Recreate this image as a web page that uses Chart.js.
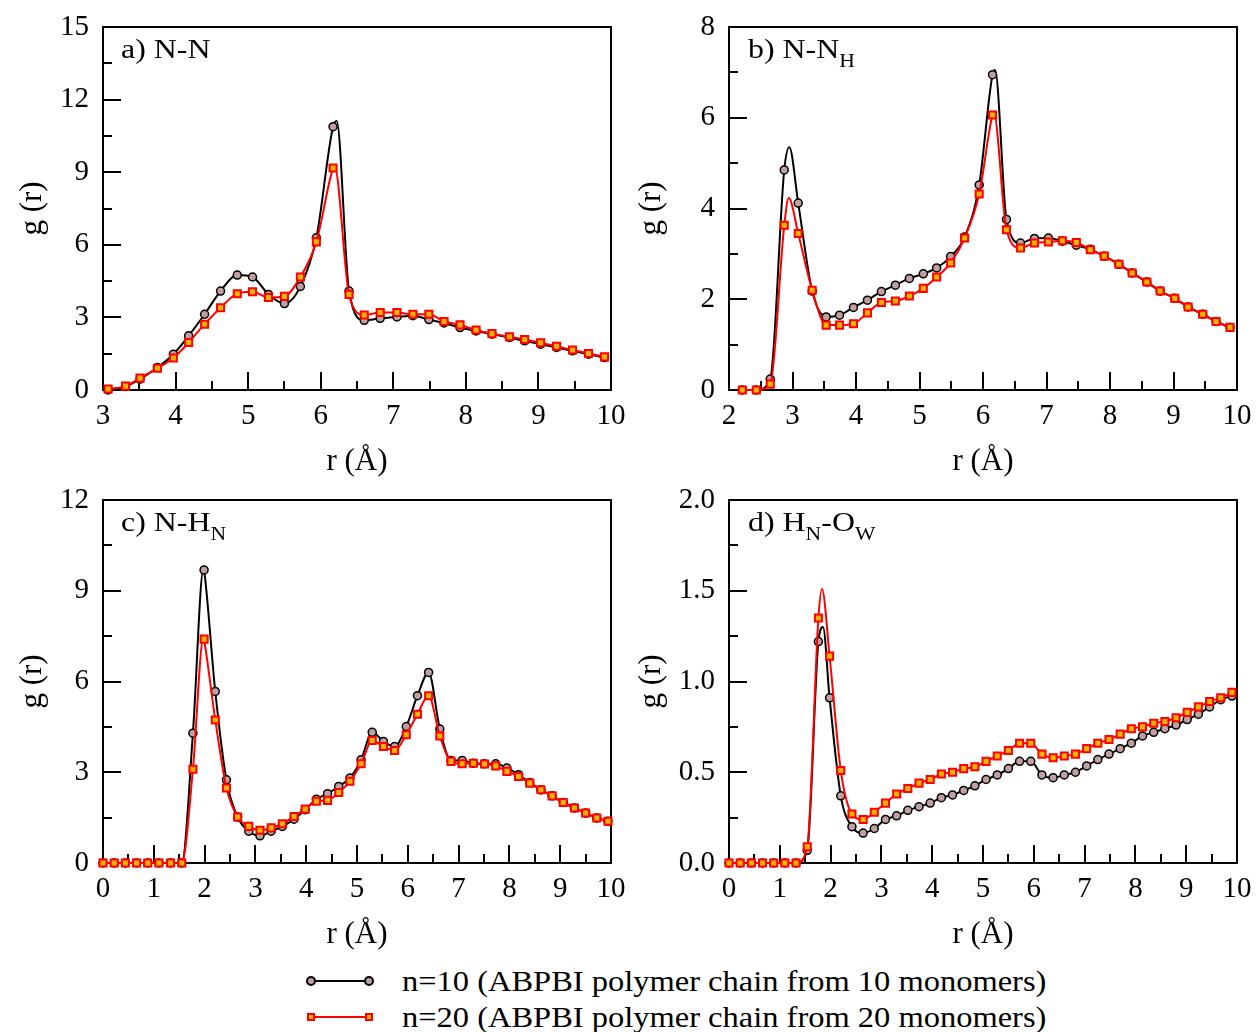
<!DOCTYPE html>
<html>
<head>
<meta charset="utf-8">
<script src="https://cdn.jsdelivr.net/npm/chart.js@4.4.1/dist/chart.umd.min.js"></script>
<style>
  body { margin: 0; background: #fff; width: 1259px; height: 1032px; position: relative; overflow: hidden;
         font-family: 'Liberation Serif', 'Times New Roman', serif; color: #000; }
  canvas { position: absolute; }
  .plabel { position: absolute; font-size: 28px; line-height: 28px; white-space: nowrap;
            transform: scaleX(1.14); transform-origin: left center; }
  .plabel sub { font-size: 19px; position: relative; top: 9px; vertical-align: baseline; line-height: 0; }
  .legline { position: absolute; height: 2px; width: 58px; left: 311px; }
  .legmark { position: absolute; box-sizing: border-box; }
  .legtext { position: absolute; left: 402px; font-size: 29px; line-height: 34px; white-space: nowrap;
             transform: scaleX(1.12); transform-origin: left center; }
</style>
</head>
<body>
<canvas id="chartA" width="630" height="480" style="left:0;top:0"></canvas>
<canvas id="chartB" width="629" height="480" style="left:630px;top:0"></canvas>
<canvas id="chartC" width="630" height="473" style="left:0;top:480px"></canvas>
<canvas id="chartD" width="629" height="473" style="left:630px;top:480px"></canvas>

<div class="plabel" style="left:121px;top:35px">a) N-N</div>
<div class="plabel" style="left:748px;top:35px">b) N-N<sub>H</sub></div>
<div class="plabel" style="left:121px;top:508px">c) N-H<sub>N</sub></div>
<div class="plabel" style="left:748px;top:508px">d) H<sub>N</sub>-O<sub>W</sub></div>

<div class="legline" style="top:980px;background:#000"></div>
<div class="legmark" style="left:306px;top:976px;width:10px;height:10px;border-radius:50%;border:2px solid #000;background:#bf9f9f"></div>
<div class="legmark" style="left:364px;top:976px;width:10px;height:10px;border-radius:50%;border:2px solid #000;background:#bf9f9f"></div>
<div class="legtext" style="top:964px">n=10 (ABPBI polymer chain from 10 monomers)</div>

<div class="legline" style="top:1016px;background:#ff0000"></div>
<div class="legmark" style="left:307px;top:1013px;width:8px;height:8px;border:2px solid #ff0000;background:#f4b400"></div>
<div class="legmark" style="left:365px;top:1013px;width:8px;height:8px;border:2px solid #ff0000;background:#f4b400"></div>
<div class="legtext" style="top:1000px">n=20 (ABPBI polymer chain from 20 monomers)</div>

<script>
// r values (Angstrom) of the plotted markers
const rA = [3.07, 3.31, 3.51, 3.75, 3.97, 4.18, 4.40, 4.62, 4.85, 5.06, 5.28, 5.50, 5.72, 5.94, 6.17, 6.39,
            6.60, 6.82, 7.05, 7.27, 7.49, 7.70, 7.92, 8.14, 8.36, 8.60, 8.81, 9.03, 9.25, 9.47, 9.69, 9.91];
const aN10 = [0.00, 0.14, 0.45, 0.93, 1.48, 2.24, 3.13, 4.09, 4.75, 4.67, 3.95, 3.57, 4.28, 6.29, 10.88, 4.09,
              2.88, 2.96, 3.02, 3.07, 2.91, 2.77, 2.58, 2.44, 2.31, 2.17, 2.03, 1.89, 1.76, 1.62, 1.48, 1.34];
const aN20 = [0.04, 0.16, 0.49, 0.90, 1.32, 1.96, 2.72, 3.40, 3.98, 4.06, 3.82, 3.87, 4.67, 6.12, 9.17, 3.95,
              3.10, 3.20, 3.20, 3.13, 3.13, 2.83, 2.69, 2.48, 2.33, 2.20, 2.09, 1.95, 1.81, 1.65, 1.51, 1.37];
const aN10Peak = [[6.22, 11.12]];
const aN20Peak = [[6.19, 9.25]];

const rB = [2.21, 2.43, 2.65, 2.87, 3.09, 3.31, 3.53, 3.74, 3.96, 4.18, 4.40, 4.62, 4.84, 5.06, 5.27, 5.49, 5.71, 5.94,
            6.15, 6.37, 6.59, 6.81, 7.03, 7.25, 7.47, 7.69, 7.91, 8.14, 8.35, 8.58, 8.79, 9.02, 9.23, 9.46, 9.67, 9.89];
const bN10 = [0, 0, 0.24, 4.85, 4.12, 2.18, 1.61, 1.65, 1.82, 1.98, 2.17, 2.31, 2.46, 2.56, 2.69, 2.94, 3.37, 4.52,
              6.95, 3.76, 3.24, 3.34, 3.35, 3.28, 3.19, 3.10, 2.95, 2.77, 2.58, 2.38, 2.18, 2.02, 1.83, 1.67, 1.51, 1.38];
const bN20 = [0, 0, 0.13, 3.63, 3.45, 2.20, 1.43, 1.43, 1.46, 1.70, 1.93, 1.96, 2.07, 2.24, 2.49, 2.80, 3.35, 4.32,
              6.06, 3.53, 3.13, 3.24, 3.26, 3.29, 3.25, 3.09, 2.95, 2.77, 2.58, 2.38, 2.18, 2.02, 1.83, 1.67, 1.51, 1.38];
const bN10Peak = [[2.95, 5.35], [6.19, 7.05]];
const bN20Peak = [[2.94, 4.23], [6.17, 6.10]];

const rC = [0, 0.22, 0.44, 0.66, 0.88, 1.10, 1.33, 1.55, 1.77, 1.99, 2.21, 2.43, 2.65, 2.87, 3.09, 3.31, 3.53,
            3.76, 3.98, 4.20, 4.42, 4.64, 4.86, 5.08, 5.30, 5.52, 5.74, 5.97, 6.19, 6.41, 6.63, 6.85, 7.07, 7.29,
            7.51, 7.73, 7.95, 8.18, 8.40, 8.62, 8.84, 9.06, 9.28, 9.50, 9.72, 9.94];
const cN10 = [0, 0, 0, 0, 0, 0, 0, 0, 4.29, 9.69, 5.67, 2.75, 1.52, 1.05, 0.90, 1.05, 1.21, 1.45, 1.76, 2.11, 2.29,
              2.53, 2.81, 3.41, 4.32, 4.02, 3.85, 4.51, 5.53, 6.30, 4.43, 3.39, 3.39, 3.30, 3.28, 3.28, 3.14, 2.92,
              2.66, 2.42, 2.22, 2.00, 1.82, 1.65, 1.49, 1.38];
const cN20 = [0, 0, 0, 0, 0, 0, 0, 0, 3.10, 7.40, 4.73, 2.48, 1.52, 1.21, 1.08, 1.16, 1.30, 1.54, 1.78, 2.04, 2.07,
              2.33, 2.70, 3.28, 4.05, 3.85, 3.72, 4.24, 4.92, 5.53, 4.20, 3.36, 3.28, 3.30, 3.27, 3.21, 3.03, 2.86,
              2.64, 2.42, 2.22, 2.00, 1.82, 1.65, 1.49, 1.38];
const cN10Peak = [[1.98, 9.75]];
const cN20Peak = [[1.98, 7.48]];

const rD = [0, 0.22, 0.44, 0.66, 0.88, 1.10, 1.32, 1.54, 1.76, 1.98, 2.20, 2.42, 2.64, 2.86, 3.08, 3.30, 3.52,
            3.74, 3.96, 4.18, 4.40, 4.62, 4.84, 5.06, 5.28, 5.50, 5.72, 5.94, 6.16, 6.38, 6.60, 6.82, 7.04, 7.26,
            7.48, 7.70, 7.92, 8.14, 8.36, 8.58, 8.80, 9.02, 9.24, 9.46, 9.68, 9.90];
const dN10 = [0, 0, 0, 0, 0, 0, 0, 0.07, 1.22, 0.91, 0.37, 0.20, 0.165, 0.19, 0.24, 0.26, 0.29, 0.31, 0.33, 0.36,
              0.375, 0.40, 0.425, 0.46, 0.485, 0.52, 0.56, 0.56, 0.485, 0.47, 0.485, 0.50, 0.535, 0.57, 0.60, 0.63,
              0.66, 0.70, 0.72, 0.74, 0.76, 0.79, 0.82, 0.86, 0.90, 0.92];
const dN20 = [0, 0, 0, 0, 0, 0, 0, 0.09, 1.35, 1.14, 0.51, 0.27, 0.24, 0.28, 0.33, 0.38, 0.41, 0.44, 0.46, 0.49,
              0.50, 0.52, 0.53, 0.56, 0.59, 0.62, 0.66, 0.66, 0.60, 0.58, 0.59, 0.60, 0.63, 0.66, 0.68, 0.71,
              0.74, 0.75, 0.77, 0.78, 0.80, 0.83, 0.86, 0.89, 0.91, 0.94];
const dN10Peak = [[1.85, 1.30]];
const dN20Peak = [[1.83, 1.51]];

const FONT = "'Liberation Serif', 'Times New Roman', serif";

function pts(xs, ys) {
    return xs.map((x, i) => ({ x: x, y: ys[i] }));
}

function curve(xs, ys, extra) {
    return pts(xs, ys).concat(extra.map(p => ({ x: p[0], y: p[1] }))).sort((a, b) => a.x - b.x);
}

// box + inward major/minor ticks, like the original xmgrace frame
const frameTicks = {
    id: 'frameTicks',
    beforeDatasetsDraw(chart, args, o) {
        const { ctx, chartArea: a, scales: { x, y } } = chart;
        ctx.save();
        ctx.strokeStyle = '#000';
        ctx.lineWidth = 2;
        ctx.beginPath();
        const nx = Math.round((x.max - x.min) / (o.xStep / 2));
        for (let i = 0; i <= nx; i++) {
            const px = Math.round(x.getPixelForValue(x.min + i * o.xStep / 2));
            const len = i % 2 === 0 ? 18 : 9;
            ctx.moveTo(px, a.bottom);
            ctx.lineTo(px, a.bottom - len);
        }
        const ny = Math.round((y.max - y.min) / (o.yStep / 2));
        for (let i = 0; i <= ny; i++) {
            const py = Math.round(y.getPixelForValue(y.min + i * o.yStep / 2));
            const len = i % 2 === 0 ? 18 : 9;
            ctx.moveTo(a.left, py);
            ctx.lineTo(a.left + len, py);
        }
        ctx.stroke();
        ctx.strokeRect(a.left, a.top, a.right - a.left, a.bottom - a.top);
        ctx.restore();
    }
};

function makePanel(id, p) {
    return new Chart(document.getElementById(id), {
        type: 'line',
        data: {
            datasets: [
                { data: pts(p.r, p.n20), showLine: false, pointStyle: 'rect', pointRadius: 5, pointBorderWidth: 2,
                  pointBorderColor: '#ff0000', pointBackgroundColor: '#f4b400', order: 0, clip: false },
                { data: curve(p.r, p.n20, p.n20Peak), borderColor: '#ff0000', borderWidth: 2, pointRadius: 0,
                  cubicInterpolationMode: 'monotone', order: 1, clip: false },
                { data: pts(p.r, p.n10), showLine: false, pointStyle: 'circle', pointRadius: 4, pointBorderWidth: 1.5,
                  pointBorderColor: '#000', pointBackgroundColor: '#bf9f9f', order: 2, clip: false },
                { data: curve(p.r, p.n10, p.n10Peak), borderColor: '#000', borderWidth: 2, pointRadius: 0,
                  cubicInterpolationMode: 'monotone', order: 3, clip: false }
            ]
        },
        options: {
            responsive: false,
            animation: false,
            events: [],
            layout: { padding: { left: 0, top: p.padTop, right: p.padRight, bottom: 0 } },
            plugins: {
                legend: { display: false },
                tooltip: { enabled: false },
                frameTicks: { xStep: 1, yStep: p.yStep }
            },
            scales: {
                x: {
                    type: 'linear', min: p.xMin, max: 10,
                    border: { display: false },
                    grid: { display: false, drawTicks: false },
                    ticks: { stepSize: 1, color: '#000', font: { family: FONT, size: 29 }, padding: 9,
                             maxRotation: 0, autoSkip: false },
                    title: { display: true, text: 'r (Å)', color: '#000', font: { family: FONT, size: 31 },
                             padding: { top: 0, bottom: 0 } },
                    afterFit(s) { s.height = 90; s.paddingLeft = 0; s.paddingRight = 0; }
                },
                y: {
                    type: 'linear', min: 0, max: p.yMax,
                    border: { display: false },
                    grid: { display: false, drawTicks: false },
                    ticks: { stepSize: p.yStep, color: '#000', font: { family: FONT, size: 29 }, padding: 14,
                             callback: v => p.yStep < 1 ? v.toFixed(1) : v },
                    title: { display: true, text: 'g (r)', color: '#000', font: { family: FONT, size: 31 },
                             padding: { top: p.titlePad, bottom: 0 } },
                    afterFit(s) { s.width = p.yWidth; s.paddingTop = 0; s.paddingBottom = 0; }
                }
            }
        },
        plugins: [frameTicks]
    });
}

makePanel('chartA', { r: rA, n10: aN10, n20: aN20, n10Peak: aN10Peak, n20Peak: aN20Peak,
    xMin: 3, yMax: 15, yStep: 3, padTop: 27, padRight: 19, yWidth: 103, titlePad: 14 });
makePanel('chartB', { r: rB, n10: bN10, n20: bN20, n10Peak: bN10Peak, n20Peak: bN20Peak,
    xMin: 2, yMax: 8, yStep: 2, padTop: 27, padRight: 22, yWidth: 99, titlePad: 3 });
makePanel('chartC', { r: rC, n10: cN10, n20: cN20, n10Peak: cN10Peak, n20Peak: cN20Peak,
    xMin: 0, yMax: 12, yStep: 3, padTop: 20, padRight: 19, yWidth: 103, titlePad: 14 });
makePanel('chartD', { r: rD, n10: dN10, n20: dN20, n10Peak: dN10Peak, n20Peak: dN20Peak,
    xMin: 0, yMax: 2, yStep: 0.5, padTop: 20, padRight: 22, yWidth: 99, titlePad: 3 });
</script>
</body>
</html>
